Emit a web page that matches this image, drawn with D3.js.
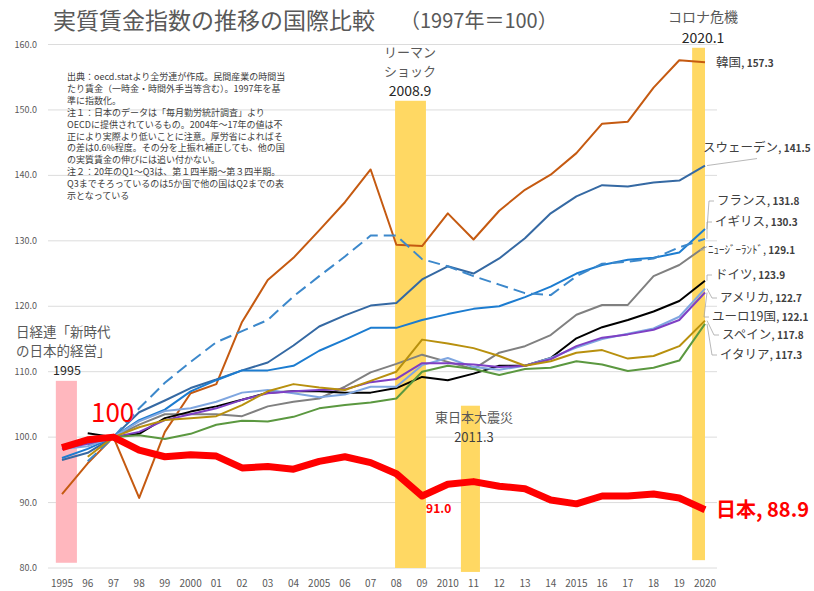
<!DOCTYPE html>
<html>
<head>
<meta charset="utf-8">
<title>実質賃金指数の推移の国際比較</title>
<script src="https://cdn.jsdelivr.net/npm/d3@7"></script>
<style>
  body { margin: 0; background: #fff; }
  svg { font-family: "Noto Sans CJK JP", "Noto Sans", sans-serif; }
</style>
</head>
<body>
<script>
// categories / tick labels
var years = [1995,1996,1997,1998,1999,2000,2001,2002,2003,2004,2005,2006,2007,2008,2009,2010,2011,2012,2013,2014,2015,2016,2017,2018,2019,2020];
var yearLabels = ["1995","96","97","98","99","2000","01","02","03","04","2005","06","07","08","09","2010","11","12","13","14","2015","16","17","18","19","2020"];
var yTicks = [80,90,100,110,120,130,140,150,160];

// series values (1997 = 100)
var japan   = [98.4,99.6,100,98.0,97.0,97.3,97.1,95.3,95.5,95.1,96.3,97.0,96.1,94.4,91.0,92.8,93.2,92.5,92.1,90.4,89.8,91.0,91.0,91.3,90.7,88.9];
var korea   = [91.3,96.0,100,90.7,100.8,106.7,108.1,117.6,124.0,127.4,131.6,135.9,140.9,129.4,129.2,134.2,130.2,134.6,137.8,140.1,143.4,147.9,148.2,153.4,157.6,157.3];
var sweden  = [96.5,97.6,100,103.8,105.6,107.5,108.8,110.2,111.4,114.0,116.9,118.6,120.1,120.5,124.1,126.1,125.0,127.3,130.4,134.2,136.8,138.5,138.3,138.9,139.2,141.5];
var france  = [96.8,98.2,100,102.6,104.2,107.0,108.7,110.2,110.2,110.9,113.2,114.9,116.7,116.7,117.9,118.8,119.6,120.0,121.4,123.0,125.0,126.3,127.1,127.4,128.2,131.8];
var uk      = [null,96.3,100,104.4,108.3,111.5,114.5,116.2,117.9,121.5,124.6,127.6,130.8,130.8,127.2,126.1,124.6,123.3,122.0,121.7,124.6,126.5,126.8,127.3,129.0,130.3];
var nz      = [null,98.8,100,101.9,103.5,103.5,103.5,103.2,104.7,105.4,105.9,107.7,109.9,111.2,112.6,111.5,110.4,112.9,113.9,115.6,118.7,120.2,120.2,124.6,126.3,129.1];
var germany = [null,100.6,100,100.5,102.9,103.9,104.7,105.7,106.8,107.0,107.0,106.8,106.8,107.5,109.2,108.7,109.7,110.9,110.9,112.1,115.1,116.8,117.9,119.2,120.8,123.9];
var usa     = [98.2,98.6,100,102.4,104.0,104.4,105.4,106.8,107.2,106.7,106.1,106.5,107.7,107.7,111.0,112.1,110.7,110.3,110.9,112.1,113.7,115.0,115.8,116.6,118.4,122.7];
var euro19  = [98.2,99.0,100,100.8,102.6,103.5,104.4,105.7,106.7,107.0,107.2,107.3,108.4,108.9,111.3,111.3,111.1,110.7,110.9,111.9,113.9,115.2,115.7,116.4,117.9,122.1];
var spain   = [null,97.0,100,101.5,102.6,102.9,103.2,104.9,107.0,108.1,107.6,107.2,108.6,110.0,114.9,114.3,113.6,112.4,110.9,111.6,112.9,113.3,112.0,112.4,113.9,117.8];
var italy   = [null,99.3,100,100.3,99.7,100.5,101.9,102.5,102.4,103.1,104.4,104.9,105.3,105.9,110.0,110.9,110.4,109.5,110.4,110.6,111.6,111.1,110.1,110.6,111.7,117.3];

var seriesNames = ["韓国","スウェーデン","フランス","イギリス","ﾆｭｰｼﾞｰﾗﾝﾄﾞ","ドイツ","アメリカ","ユーロ19国","スペイン","イタリア","日本"];
var seriesValues = [korea, sweden, france, uk, nz, germany, usa, euro19, spain, italy, japan];
var seriesColors = ["#C55A11","#3569A3","#1C7CD0","#3C88CB","#808080","#000000","#7FA6E0","#7E3FC4","#B8900E","#5B9840","#FF0000"];

// event periods: [centre (year), width (years), top value, bottom value]
var eventNames = ["1995","2008.9","2011.3","2020.1"];
var eventPos   = [1995.17, 2008.55, 2010.88, 2019.75];
var eventWidth = [0.82, 1.2, 0.74, 0.5];
var eventTop   = [108.6, 151.4, 104.8, 159.5];
var eventBot   = [80.8, 80, 79.4, 81.2];
var eventColor = ["#FFB7BE","#FFD863","#FFD863","#FFD863"];

var svg = d3.select("body").append("svg").attr("width", 814).attr("height", 591);

var x = d3.scalePoint().domain(years).range([62, 705]);
var xl = d3.scaleLinear().domain([1995, 2020]).range([62, 705]);
var y = d3.scaleLinear().domain([80, 160]).range([568, 44.5]);

// gridlines
svg.append("g").selectAll("line").data(yTicks).enter().append("line")
  .attr("x1", 48).attr("x2", 717)
  .attr("y1", function(d) { return y(d); }).attr("y2", function(d) { return y(d); })
  .attr("stroke", "#dcdcdc").attr("stroke-width", 1);

// y labels
svg.append("g").selectAll("text").data(yTicks).enter().append("text")
  .attr("x", 37).attr("y", function(d) { return y(d) + 3; })
  .attr("text-anchor", "end").attr("font-size", 9).attr("fill", "#595959")
  .text(function(d) { return d.toFixed(1); });

// x labels
svg.append("g").selectAll("text").data(years).enter().append("text")
  .attr("x", function(d) { return x(d); }).attr("y", 587)
  .attr("text-anchor", "middle").attr("font-size", 10).attr("fill", "#595959")
  .text(function(d, i) { return yearLabels[i]; });

// event bars
svg.append("g").selectAll("rect").data(eventPos).enter().append("rect")
  .attr("x", function(d, i) { return xl(d - eventWidth[i] / 2); })
  .attr("width", function(d, i) { return xl(d + eventWidth[i] / 2) - xl(d - eventWidth[i] / 2); })
  .attr("y", function(d, i) { return y(eventTop[i]); })
  .attr("height", function(d, i) { return y(eventBot[i]) - y(eventTop[i]); })
  .attr("fill", function(d, i) { return eventColor[i]; });

// lines
var line = d3.line()
  .defined(function(d) { return d != null; })
  .x(function(d, i) { return x(years[i]); })
  .y(function(d) { return y(d); });

svg.append("g").selectAll("path").data(seriesValues).enter().append("path")
  .attr("d", line)
  .attr("fill", "none")
  .attr("stroke", function(d, i) { return seriesColors[i]; })
  .attr("stroke-width", function(d, i) { return seriesNames[i] == "日本" ? 7 : 2; })
  .attr("stroke-dasharray", function(d, i) { return seriesNames[i] == "イギリス" ? "12,6" : null; })
  .attr("stroke-linejoin", "round");

// end labels (names except Japan)
var labelX = [716, 703, 717, 715, 708, 715, 720, 712, 722, 720];
var labelY = [63, 148, 201, 222, 250, 275, 298, 317, 335, 355];
var last = years.length - 1;

var leaders = svg.append("g");
seriesNames.slice(0, 10).forEach(function(name, i) {
  var ex = x(years[last]) + 2, ey = y(seriesValues[i][last]);
  if (name == "韓国") return;
  var pts;
  if (name == "スウェーデン") {
    pts = [[ex, ey], [757, ey - 7]];
  } else {
    pts = [[ex, ey], [labelX[i] - 8, labelY[i]], [labelX[i] - 3, labelY[i]]];
  }
  leaders.append("path").attr("d", d3.line()(pts))
    .attr("fill", "none").attr("stroke", "#a6a6a6").attr("stroke-width", 0.8);
});

seriesNames.slice(0, 10).forEach(function(name, i) {
  var t = svg.append("text").attr("x", labelX[i]).attr("y", labelY[i] + 4).attr("fill", "#404040");
  t.append("tspan").attr("font-size", name == "ﾆｭｰｼﾞｰﾗﾝﾄﾞ" ? 11 : 12.5).text(name + ",");
  t.append("tspan").attr("font-size", 10).attr("font-weight", "bold").text(" " + seriesValues[i][last].toFixed(1));
});

// Japan labels
svg.append("text").attr("x", 716).attr("y", 517).attr("font-size", 20).attr("font-weight", "bold")
  .attr("fill", "#FF0000").text("日本, " + japan[last].toFixed(1));
svg.append("text").attr("x", x(2009) + 4).attr("y", 513).attr("font-size", 12).attr("font-weight", "bold")
  .attr("fill", "#FF0000").text(japan[14].toFixed(1));
svg.append("text").attr("x", 91).attr("y", 422).attr("font-size", 26)
  .attr("fill", "#FF0000").text("100");

// title
svg.append("text").attr("x", 53).attr("y", 29).attr("font-size", 23).attr("fill", "#595959")
  .text("実質賃金指数の推移の国際比較");
svg.append("text").attr("x", 400).attr("y", 28).attr("font-size", 20).attr("fill", "#595959")
  .text("（1997年＝100）");

// event annotations
function note(lines, cx, ys, sizes, colors) {
  lines.forEach(function(s, i) {
    svg.append("text").attr("x", cx).attr("y", ys[i]).attr("text-anchor", "middle")
      .attr("font-size", sizes[i]).attr("fill", colors[i]).text(s);
  });
}
note(["リーマン", "ショック", eventNames[1]], 410, [57, 76, 96], [13, 13, 14], ["#595959", "#595959", "#262626"]);
note(["コロナ危機", eventNames[3]], 703, [22, 43], [14, 14], ["#595959", "#262626"]);
note(["東日本大震災", eventNames[2]], 474, [422, 442], [13, 13], ["#595959", "#404040"]);
note([eventNames[0]], 67, [375], [12.5], ["#262626"]);
svg.append("text").attr("x", 16).attr("y", 337).attr("font-size", 13.5).attr("fill", "#595959").text("日経連「新時代");
svg.append("text").attr("x", 16).attr("y", 356).attr("font-size", 13.5).attr("fill", "#595959").text("の日本的経営」");

// source notes
var notes = [
  "出典：oecd.statより全労連が作成。民間産業の時間当",
  "たり賃金（一時金・時間外手当等含む）。1997年を基",
  "準に指数化。",
  "注１：日本のデータは「毎月勤労統計調査」より",
  "OECDに提供されているもの。2004年～17年の値は不",
  "正により実際より低いことに注意。厚労省によればそ",
  "の差は0.6%程度。その分を上振れ補正しても、他の国",
  "の実質賃金の伸びには追い付かない。",
  "注２：20年のQ1～Q3は、第１四半期～第３四半期。",
  "Q3までそろっているのは5か国で他の国はQ2までの表",
  "示となっている"
];
svg.append("g").selectAll("text").data(notes).enter().append("text")
  .attr("x", 67).attr("y", function(d, i) { return 80 + i * 11.9; })
  .attr("font-size", 9).attr("fill", "#404040")
  .text(function(d) { return d; });
</script>
</body>
</html>
